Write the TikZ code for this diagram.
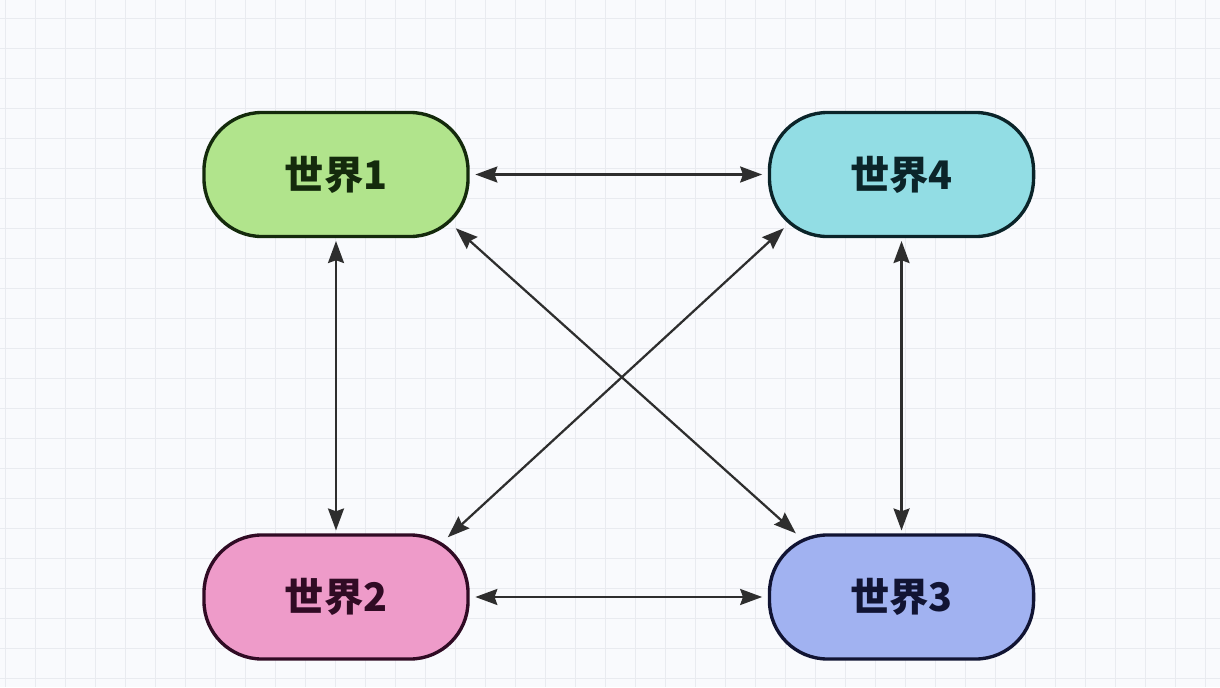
\documentclass[tikz,border=0pt]{standalone}
\usepackage{fontspec}
\setmainfont{Noto Sans CJK SC}
\usetikzlibrary{arrows.meta,positioning,calc}
\definecolor{bgpaper}{HTML}{F9FAFD}
\definecolor{gridgray}{HTML}{E9EBF0}
\definecolor{arrowgray}{HTML}{2E2E2E}
\definecolor{greenfill}{HTML}{B1E48C}
\definecolor{greentext}{HTML}{142A0C}
\definecolor{cyanfill}{HTML}{92DDE4}
\definecolor{cyantext}{HTML}{0B2429}
\definecolor{pinkfill}{HTML}{EE9BC9}
\definecolor{pinktext}{HTML}{300B24}
\definecolor{bluefill}{HTML}{A1B2F1}
\definecolor{bluetext}{HTML}{111433}
\tikzset{
    world/.style={
        draw, rounded corners=1.45cm, line width=2.4pt,
        minimum width=6.6cm, minimum height=3.1cm,
        font=\fontsize{28}{32}\selectfont\bfseries
    },
    gridline/.style={gridgray, line width=0.6pt},
    link/.style={<->, arrowgray, line width=1.6pt}
}

\begin{document}
\begin{tikzpicture}[x=0.025cm, y=-0.025cm,
    >={Stealth[length=0.55cm, width=0.4cm, inset=0.07cm]}]

% Background and grid
\fill[bgpaper] (0,0) rectangle (1220,687);
\useasboundingbox (0,0) rectangle (1220,687);
\foreach \gx in {5,35,...,1215} \draw[gridline] (\gx,0) -- (\gx,687);
\foreach \gy in {18,48,...,678} \draw[gridline] (0,\gy) -- (1220,\gy);

% Boxes
\node[world, fill=greenfill, draw=greentext, text=greentext] (w1) at (336,174.5) {世界1};
\node[world, fill=cyanfill, draw=cyantext, text=cyantext, right=7.45cm of w1] (w4) {世界4};
\node[world, fill=pinkfill, draw=pinktext, text=pinktext, below=7.375cm of w1] (w2) {世界2};
\node[world, fill=bluefill, draw=bluetext, text=bluetext, right=7.45cm of w2] (w3) {世界3};

% Straight links
\draw[link, shorten <=4pt, shorten >=4pt] (w1.east) -- (w4.west);
\draw[link, shorten <=4pt, shorten >=4pt] (w2.east) -- (w3.west);
\draw[link, shorten <=2pt, shorten >=2pt] (w1.south) -- (w2.north);
\draw[link, shorten <=2pt, shorten >=2pt] (w4.south) -- (w3.north);

% Crossing links
\draw[link] ($(w1.south east)+(-14,-10)$) -- ($(w3.north west)+(28,0)$);
\draw[link] ($(w4.south west)+(16,-10)$) -- ($(w2.north east)+(-22,4)$);

\end{tikzpicture}
\end{document}
